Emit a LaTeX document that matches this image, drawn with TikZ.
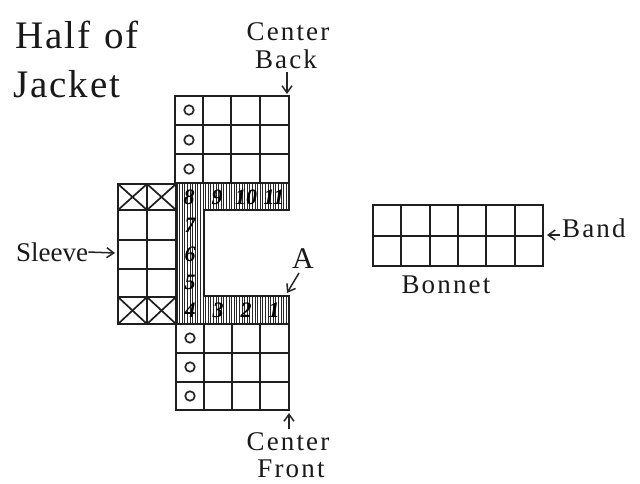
\documentclass[tikz,border=0pt]{standalone}
\usepackage{fontspec}
\setmainfont{Liberation Serif}
\newfontfamily\handlab[LetterSpace=8]{Liberation Serif}
\newfontfamily\handtight{Liberation Serif}
\newfontfamily\handbig[LetterSpace=5]{Liberation Serif}
\usetikzlibrary{arrows.meta}
\tikzset{
 x=1pt,y=-1pt,
 grid/.style={line width=1.7pt,black!88,line cap=round},
 hatch/.style={line width=0.9pt,black!85},
 lab/.style={inner sep=0pt,font=\handlab\fontsize{27}{28}\selectfont,text=black!90},
 tight/.style={inner sep=0pt,font=\handtight\fontsize{27}{28}\selectfont,text=black!90},
 big/.style={inner sep=0pt,font=\handbig\fontsize{39}{40}\selectfont,text=black!90},
 num/.style={inner sep=0pt,font=\fontsize{22}{22}\itshape\bfseries\selectfont,text=black},
 hole/.style={circle,draw=black!85,line width=1.7pt,inner sep=0pt,minimum size=9.5pt},
 arr/.style={line width=1.5pt,black!85,-{Straight Barb[length=7pt,width=10pt]}},
}
\begin{document}
\begin{tikzpicture}
\useasboundingbox (0,0) rectangle (640,483);
\fill[white] (0,0) rectangle (640,483);
% hatching
\foreach \x in {177,179.6,...,289}{\draw[hatch] (\x,183)--(\x,210);\draw[hatch] (\x,296)--(\x,324);}
\foreach \x in {177,179.6,...,204}{\draw[hatch] (\x,210)--(\x,296);}
% top block
\draw[grid] (175,96) rectangle (289,183);
\foreach \x in {203,231,260}{\draw[grid] (\x,96)--(\x,183);}
\foreach \y in {125,154}{\draw[grid] (175,\y)--(289,\y);}
% hatched band frame
\draw[grid] (289,210)--(204,210)--(204,296)--(289,296)--(289,324)--(176,324)--(176,183)--(289,183)--cycle;
% bottom block
\draw[grid] (176,324) rectangle (289,410);
\foreach \x in {204,232,260}{\draw[grid] (\x,324)--(\x,410);}
\foreach \y in {353,382}{\draw[grid] (176,\y)--(289,\y);}
% sleeve
\draw[grid] (118,184) rectangle (176,324);
\draw[grid] (147,184)--(147,324);
\foreach \y in {210,240,269,297}{\draw[grid] (118,\y)--(176,\y);}
\foreach \a/\b/\c/\d in {118/184/147/210,147/184/176/210,118/297/147/324,147/297/176/324}{
 \draw[grid] (\a,\b)--(\c,\d); \draw[grid] (\a,\d)--(\c,\b);}
% holes
\foreach \n/\y in {h1/110,h2/140,h3/169}{\node[hole] (\n) at (189,\y) {};}
\foreach \n/\y in {h4/338,h5/367,h6/396}{\node[hole] (\n) at (190,\y) {};}
% numbers
\foreach \n/\t/\x/\y in {n8/8/189/197,n9/9/217/197,n10/10/246/197,n11/11/274/197,n7/7/190/225,n6/6/190/254,n5/5/190/282,n4/4/190/310,n3/3/218/310,n2/2/246/310,n1/1/274/310}{
 \node[num] (\n) at (\x,\y) {\t};}
% bonnet
\draw[grid] (373,205) rectangle (543,266);
\foreach \x in {401,430,458,486,515}{\draw[grid] (\x,205)--(\x,266);}
\draw[grid] (373,236)--(543,236);
% labels
\node[big,anchor=west] (half) at (15,35) {Half\hspace{14pt}of};
\node[big,anchor=west] (jacket) at (13,84) {Jacket};
\node[lab] (center1) at (288,32) {Center};
\node[lab] (back) at (286,59) {Back};
\node[tight,anchor=west] (sleeve) at (16,252) {Sleeve};
\node[lab,anchor=west] (band) at (562,228) {Band};
\node[lab] (bonnet) at (446,285) {Bonnet};
\node[lab,font=\handtight\fontsize{30}{31}\selectfont] (a) at (303,259) {A};
\node[lab] (center2) at (288,442) {Center};
\node[lab] (front) at (291,469) {Front};
% arrows
\coordinate (cb) at (287,94);
\coordinate (sl) at (115,253);
\coordinate (bd) at (547,235);
\coordinate (ca) at (287,293);
\coordinate (cf) at (289,413);
\draw[arr] (287,72)--(cb);
\draw[arr] (sleeve.east)--(sl);
\draw[arr] (560,235)--(bd);
\draw[arr] (299,273)--(ca);
\draw[arr] (289,429)--(cf);
\end{tikzpicture}
\end{document}
